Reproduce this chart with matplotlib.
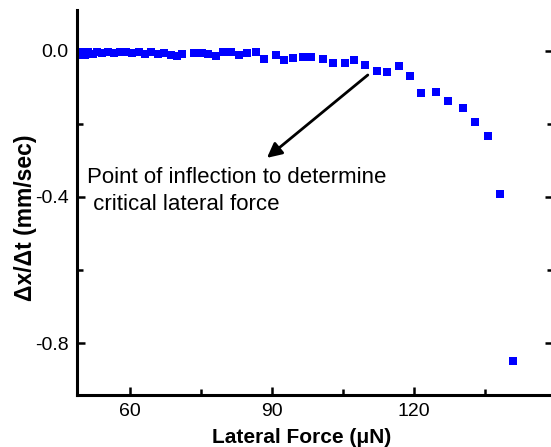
import numpy as np
import matplotlib.pyplot as plt
from matplotlib.ticker import MultipleLocator

plt.rcParams['font.family'] = ['Liberation Sans', 'DejaVu Sans']
plt.rcParams['axes.unicode_minus'] = False

# lateral force (uN) and velocity change (mm/sec)
force = [49.0, 49.7, 50.4, 51.2, 52.1, 53.0, 54.1, 55.3, 56.6, 57.9, 59.2,
         60.5, 61.8, 63.1, 64.4, 65.8, 67.2, 68.6, 70.0, 71.0,
         73.5, 75.1, 76.5, 78.2, 79.7, 81.3, 83.1, 84.6, 86.5, 88.3,
         90.8, 92.5, 94.3, 96.6, 98.2, 100.8, 102.8, 105.4, 107.3, 109.7,
         112.1, 114.2, 116.8, 119.2, 121.4, 124.7, 127.1, 130.2, 132.8,
         135.6, 138.1, 140.9]
dxdt = [-0.012, -0.004, -0.010, -0.003, -0.008, -0.003, -0.006, -0.002,
        -0.007, -0.004, -0.002, -0.006, -0.003, -0.008, -0.004, -0.009,
        -0.005, -0.010, -0.014, -0.008,
        -0.005, -0.005, -0.008, -0.015, -0.004, -0.004, -0.012, -0.007,
        -0.004, -0.021, -0.010, -0.024, -0.019, -0.017, -0.017, -0.022,
        -0.032, -0.032, -0.025, -0.038, -0.055, -0.058, -0.040, -0.068,
        -0.115, -0.113, -0.136, -0.156, -0.195, -0.232, -0.392, -0.848]

fig = plt.figure(figsize=(5.51, 4.47), dpi=100)
ax = fig.add_axes([77 / 551, 52.5 / 447, 476 / 551, 384.5 / 447])

ax.plot(force, dxdt, 's', color='#0000ff', ms=6, mew=0)

ax.set_xlim(48.8, 149.3)
ax.set_ylim(-0.941, 0.112)
ax.xaxis.set_major_locator(MultipleLocator(30))
ax.xaxis.set_minor_locator(MultipleLocator(15))
ax.yaxis.set_major_locator(MultipleLocator(0.4))
ax.yaxis.set_minor_locator(MultipleLocator(0.2))
ax.yaxis.set_major_formatter(plt.FormatStrFormatter('%.1f'))

ax.spines['top'].set_visible(False)
for s in ['left', 'bottom', 'right']:
    ax.spines[s].set_linewidth(2.2)
ax.tick_params(which='both', direction='in', width=1.8, labelsize=14,
               right=True, top=False)
ax.tick_params(which='major', length=6, pad=6)
ax.tick_params(which='minor', length=4)

ax.set_xlabel('Lateral Force (\u03bcN)', fontsize=15, fontweight='bold')
ax.set_ylabel('\u0394x/\u0394t (mm/sec)', fontsize=16.5, fontweight='bold')
ax.xaxis.set_label_coords(0.4716, -0.087)
ax.yaxis.set_label_coords(-0.084, 0.459)

# arrow pointing away from the inflection point
ax.annotate('', xy=(88.9, -0.293), xytext=(110.2, -0.066),
            arrowprops=dict(arrowstyle='-|>', color='black', lw=2,
                            mutation_scale=22, shrinkA=0, shrinkB=0))
ax.text(50.9, -0.436, 'Point of inflection to determine\n critical lateral force',
        fontsize=16, ha='left', va='baseline', linespacing=1.4)

fig.savefig('out.png', dpi=100)
